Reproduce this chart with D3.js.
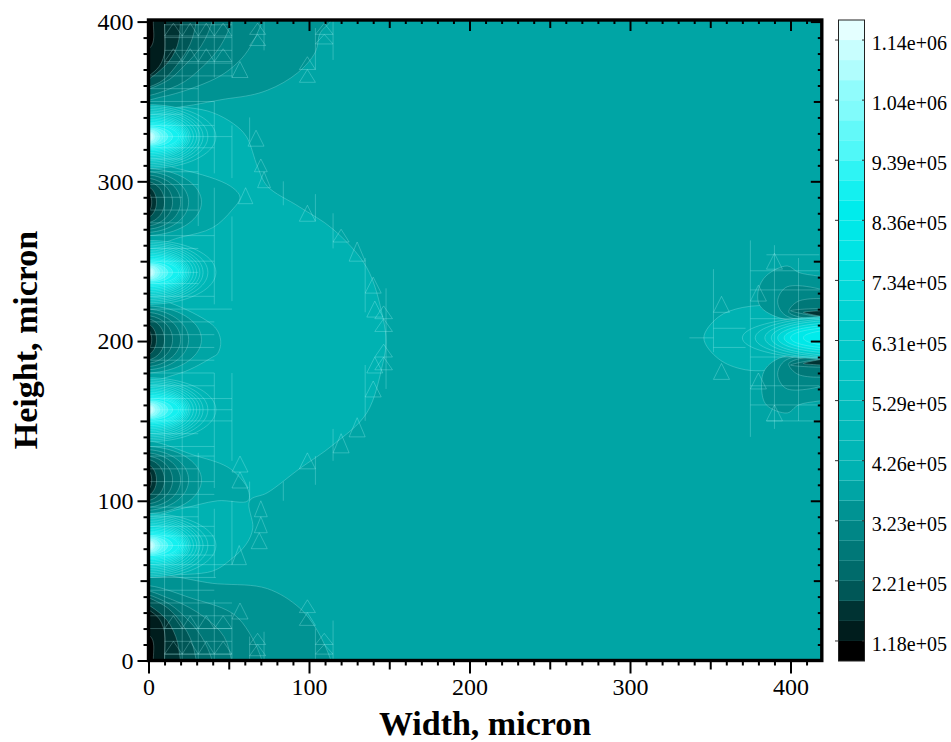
<!DOCTYPE html>
<html>
<head>
<meta charset="utf-8">
<script src="https://cdn.jsdelivr.net/npm/d3@7"></script>
<style>
  body { margin: 0; background: #fff; }
  svg { display: block; }
  text { font-family: "Liberation Serif", serif; fill: #000; }
  .contour { stroke: rgba(190,255,255,.36); stroke-width: .7; }
  .mesh { stroke: rgba(190,255,255,.32); stroke-width: .8; fill: none; }
  .tick-line { stroke: #000; stroke-width: 2; }
</style>
</head>
<body>
<div id="chart"></div>
<script>
// colour bar, bottom band first
var bandColors = ['#000000','#001d1d','#003333','#005757','#006b6b','#007878','#008686','#009393',
  '#00a5a5','#00b2b2','#00b6b6','#00b9b9','#00bcbc','#00c0c0','#00c4c4','#00c8c8',
  '#00cccc','#00d2d2','#00d8d8','#00dede','#00e4e4','#00e8e8','#00ecec','#14f0f0',
  '#2ef4f4','#50f8f8','#62f9f9','#80fbfb','#90fcfc','#b0fdfd','#c8fefe','#e4ffff']
var barLabels = ['1.18e+05','2.21e+05','3.23e+05','4.26e+05','5.29e+05','6.31e+05',
  '7.34e+05','8.36e+05','9.39e+05','1.04e+06','1.14e+06']
var barLabelEdges = [1, 4, 7, 10, 13, 16, 19, 22, 25, 28, 31]

var backgroundBand = 8

// contour outlines in micron: [x, y]
var lobeBand = 9
var lobeOutline = [[-6,347],[0,347],[26,346],[40,343],[53,336],[61,328],[68,309],[74,297],[94,284],[115,270],
  [136,246],[146,215],[148,199],[146,186],[136,155],[115,135],[94,120],[74,105],[63,100],[65,83],
  [61,73],[51,63],[40,56],[9,53],[0,51],[-6,51]]

var wedgeBand = 8
var wedges = [
  [[-6,310],[22,307],[51,297],[57,290],[52,282],[40,271],[20,265],[-6,260]],
  [[-6,226],[40,210],[45,200],[43,192],[40,190],[20,180],[-6,177]],
  [[-6,136],[30,128],[51,120],[62,107],[62,100],[43,100],[20,95],[-6,91]]
]

var topCorner = [
  {band: 7, pts: [[-9,420],[118,420],[114,401],[107,393],[104,381],[93,368],[74,357],[51,352],[-9,350]]},
  {band: 6, pts: [[-9,420],[74,420],[71,401],[62,382],[53,372],[41,364],[9,353],[-9,352]]},
  {band: 5, pts: [[-9,420],[55,420],[52,401],[45,385],[34,372],[18,360],[-9,355]]},
  {band: 4, pts: [[-9,420],[43,420],[40,401],[33,385],[22,372],[10,362],[-9,358]]},
  {band: 3, pts: [[-9,420],[33,420],[30,401],[26,386],[17,372],[7,362],[-9,359]]},
  {band: 2, pts: [[-9,420],[22,420],[20,401],[18,385],[10,372],[-9,361]]},
  {band: 1, pts: [[-9,420],[11,420],[10,401],[10,380],[5,370],[-9,363]]},
  {band: 0, pts: [[-9,420],[3,420],[3,401],[2,385],[-9,378]]}
]
var bottomCorner = [
  {band: 7, pts: [[-9,-20],[118,-20],[114,-1],[105,19],[94,33],[74,45],[43,48],[-9,50]]},
  {band: 6, pts: [[-9,-20],[74,-20],[71,-1],[63,17],[53,29],[30,38],[-9,45]]},
  {band: 5, pts: [[-9,-20],[55,-20],[52,-1],[47,15],[35,27],[15,38],[-9,43]]},
  {band: 4, pts: [[-9,-20],[43,-20],[40,-1],[33,15],[22,28],[10,37],[-9,41]]},
  {band: 3, pts: [[-9,-20],[33,-20],[30,-1],[26,14],[17,28],[7,36],[-9,40]]},
  {band: 2, pts: [[-9,-20],[22,-20],[20,-1],[17,15],[9,28],[-9,37]]},
  {band: 1, pts: [[-9,-20],[11,-20],[10,-1],[10,18],[5,28],[-9,34]]},
  {band: 0, pts: [[-9,-20],[3,-20],[3,-1],[2,14],[-9,20]]}
]

// half-ellipse families on the left edge: [band, reach, half height]
var darkCentres = [287, 201, 113]
var darkProfile = [[7,33,21],[6,25,19],[5,20,17],[4,15,15],[3,10,13],[2,5,10],[1,2,7]]
var hotCentres = [72, 157, 243, 328]
var hotProfile = [[10,42,20],[11,37,19],[12,34,18],[13,32,17],[14,30,16],[15,28,15],[16,26,14],[17,25,13],
  [18,24,12],[19,23,11],[20,22,10],[21,21,9],[22,20,8.2],[23,19,7.4],[24,15,6.4],[25,12,5.6],[26,9,5],[27,7,4.4],
  [28,5.5,4],[29,4,3.2],[30,3,2.5]]

// right edge contours
var rightOutlines = [
  {band: 9, pts: [[430,216],[395,222],[370,221],[355,215],[346,202],[355,189],[372,182],[400,183],[430,188]]},
  {band: 7, pts: [[430,236],[405,243],[398,247],[385,241],[380,232],[381,222],[395,214],[430,214]]},
  {band: 7, pts: [[430,167],[405,160],[398,155],[385,160],[382,170],[384,182],[395,190],[430,190]]},
  {band: 6, pts: [[430,227],[398,234],[392,225],[397,216],[430,214]]},
  {band: 6, pts: [[430,177],[398,170],[392,179],[397,188],[430,190]]},
  {band: 5, pts: [[430,224],[405,225],[399,218],[430,214]]},
  {band: 5, pts: [[430,180],[405,179],[399,186],[430,190]]},
  {band: 4, pts: [[430,219],[400,219],[430,215]]},
  {band: 4, pts: [[430,185],[400,185],[430,189]]},
  {band: 2, pts: [[430,218],[408,218],[430,215]]},
  {band: 2, pts: [[430,186],[408,186],[430,189]]}
]
// bright core on the right edge: [band, centre x, centre y, reach, half height]
var rightHot = [[10,430,202,60,13.5],[12,430,202,52,13],[14,430,202,46,12],[16,430,202,42,11],
  [18,430,202,38,9.5],[20,430,202,34,8],[21,430,202,30,6.5],[22,430,202,22,5]]

// mesh: [x, y0, y1]
var meshVerticals = [[10,0,401],[21,0,401],[31,0,130],[31,272,401],[41,0,38],[41,52,95],[41,108,180],[41,223,296],[41,305,350],[41,365,401],
  [52,0,30],[52,60,100],[52,125,180],[52,225,278],[52,302,335],[52,365,401],[63,0,15],[63,100,112],[63,325,340],
  [72,0,18],[72,382,401],[84,100,112],[84,285,300],[104,0,20],[104,110,128],[104,275,292],[104,370,396],[115,0,25],[115,125,145],[115,258,280],[115,376,401],
  [135,150,185],[135,218,252],[148,170,233],
  [352,193,245],[375,140,263],[390,145,260],[405,150,252]]
// mesh: [y, x0, x1]
var meshRows = [[4,10,52],[12,10,52],[20,0,52],[28,0,52],[36,0,52],[44,0,41],[52,0,42],[60,0,52],[66,0,41],[72,0,41],[78,0,41],
  [84,0,41],[90,0,31],[96,0,31],[104,0,41],[112,0,41],[120,0,31],[128,0,41],[134,0,41],[142,0,31],[150,0,52],[157,0,52],
  [164,0,52],[172,0,41],[180,0,41],[188,0,41],[196,0,41],[204,0,41],[212,0,41],[220,0,52],[228,0,41],[236,0,31],[243,0,31],
  [250,0,41],[258,0,31],[266,0,41],[274,0,21],[282,0,31],[290,0,21],[298,0,31],[306,0,31],[314,0,21],[321,0,41],[328,0,52],
  [335,0,41],[342,0,21],[350,0,41],[358,0,31],[366,0,52],[374,10,52],[382,10,52],[390,10,52],[398,10,52],
  [202,337,352],[196,352,372],[208,352,372],[190,375,418],[214,375,418],[172,375,418],[232,375,418],[160,375,418],[244,375,418],[150,385,418],[254,385,418]]
// mesh triangles: [x0, x1, y base, y apex]
var meshTriangles = [[10,21,391,399],[21,31,391,399],[31,41,391,399],[41,52,391,399],[10,21,375,383],[21,31,375,383],[31,41,375,383],[41,52,375,383],
  [10,21,4,12],[21,31,4,12],[31,41,4,12],[41,52,4,12],[10,21,20,28],[21,31,20,28],[31,41,20,28],[41,52,20,28],
  [63,73,392,399],[63,73,385,392],[52,62,365,375],[104,115,386,392],[104,115,392,399],[94,104,370,378],[94,104,362,370],
  [63,73,3,10],[63,73,10,17],[52,62,26,36],[104,115,4,10],[104,115,10,17],[94,104,22,30],[94,104,30,38],
  [62,72,322,332],[66,74,306,314],[68,76,296,306],[56,65,286,296],
  [64,74,70,80],[66,74,80,90],[66,74,90,100],[52,61,60,72],[52,62,108,118],[52,62,118,128],
  [135,145,230,240],[136,146,215,225],[125,135,250,262],[115,125,262,270],[94,104,275,285],
  [135,145,165,175],[136,146,180,190],[125,135,140,152],[115,125,130,142],[94,104,120,130],
  [141,152,182,190],[141,152,190,198],[141,152,206,214],[141,152,214,222],
  [352,362,176,186],[352,362,218,228],[375,385,170,180],[375,385,225,235],[385,395,150,160],[385,395,245,255]]

var majorTicks = [0, 100, 200, 300, 400]
var midTicks = [50, 150, 250, 350]
var minorX = [10,20,30,40,60,70,80,90,110,120,130,140,160,170,180,190,210,220,230,240,260,270,280,290,310,320,330,340,360,370,380,390,410]
var minorY = [10,20,30,40,60,70,80,90,110,120,130,140,160,170,180,190,210,220,230,240,260,270,280,290,310,320,330,340,360,370,380,390]

var svg = d3.select('#chart').append('svg').attr('width', 951).attr('height', 742)

var x = d3.scaleLinear().domain([0, 420]).range([148.5, 822.6])
var y = d3.scaleLinear().domain([0, 401]).range([660.5, 20])
var barY = d3.scaleLinear().domain([0, 32]).range([661, 20])

svg.append('clipPath').attr('id', 'plot').append('rect')
  .attr('x', x(0)).attr('y', y(401)).attr('width', x(420) - x(0)).attr('height', y(0) - y(401))

var plot = svg.append('g').attr('clip-path', 'url(#plot)')

plot.append('rect')
  .attr('x', x(0)).attr('y', y(401)).attr('width', x(420) - x(0)).attr('height', y(0) - y(401))
  .attr('fill', bandColors[backgroundBand])

var smooth = d3.line().x(d => x(d[0])).y(d => y(d[1])).curve(d3.curveCatmullRomClosed.alpha(.5))
var straight = d3.line().x(d => x(d[0])).y(d => y(d[1])).curve(d3.curveLinearClosed)

function ring(pts, band){
  plot.append('path').attr('class', 'contour').attr('d', smooth(pts)).attr('fill', bandColors[band])
}

function ellipse(cx, cy, rx, ry){
  return d3.range(0, 360, 10).map(a => [cx + rx * Math.cos(a * Math.PI / 180), cy + ry * Math.sin(a * Math.PI / 180)])
}

ring(lobeOutline, lobeBand)
wedges.forEach(w => ring(w, wedgeBand))
topCorner.forEach(c => ring(c.pts, c.band))
bottomCorner.forEach(c => ring(c.pts, c.band))

darkCentres.forEach(cy => darkProfile.forEach(p => ring(ellipse(-2, cy, p[1] + 2, p[2]), p[0])))
hotCentres.forEach(cy => hotProfile.forEach(p => ring(ellipse(0, cy, p[1], p[2]), p[0])))
rightOutlines.forEach(c => ring(c.pts, c.band))
rightHot.forEach(f => ring(ellipse(f[1], f[2], f[3], f[4]), f[0]))

var mesh = plot.append('g').attr('class', 'mesh')
meshVerticals.forEach(v => {
  mesh.append('line').attr('x1', x(v[0])).attr('x2', x(v[0])).attr('y1', y(v[1])).attr('y2', y(v[2]))
})
meshRows.forEach(r => {
  mesh.append('line').attr('x1', x(r[1])).attr('x2', x(r[2])).attr('y1', y(r[0])).attr('y2', y(r[0]))
})
meshTriangles.forEach(t => {
  mesh.append('path').attr('d', straight([[t[0], t[2]], [t[1], t[2]], [(t[0] + t[1]) / 2, t[3]]]))
})

// frame
svg.append('rect')
  .attr('x', x(0)).attr('y', y(401)).attr('width', x(420) - x(0) - .8).attr('height', y(0) - y(401))
  .attr('fill', 'none').attr('stroke', '#000').attr('stroke-width', 3.4)

function ticks(axis, scale, values, size, at, labels){
  var g = svg.append('g').attr('transform', at).call(
    axis(scale).tickValues(values).tickSize(size).tickPadding(4).tickFormat(labels ? d3.format('d') : ''))
  g.select('.domain').remove()
  g.selectAll('.tick line').attr('class', 'tick-line')
  g.selectAll('text').style('font-size', '24px').style('font-family', '"Liberation Serif", serif')
  return g
}

var bottom = 'translate(0,' + y(0) + ')', top_ = 'translate(0,' + y(401) + ')'
var left = 'translate(' + x(0) + ',0)', right = 'translate(' + (x(420) - .8) + ',0)'

ticks(d3.axisBottom, x, majorTicks, 13, bottom, true)
ticks(d3.axisBottom, x, midTicks, 9, bottom)
ticks(d3.axisBottom, x, minorX, 5, bottom)
ticks(d3.axisTop, x, majorTicks, -11, top_)
ticks(d3.axisTop, x, midTicks, -8, top_)
ticks(d3.axisTop, x, minorX, -4, top_)
ticks(d3.axisLeft, y, majorTicks, 11, left, true)
ticks(d3.axisLeft, y, midTicks, 8, left)
ticks(d3.axisLeft, y, minorY, 5, left)
ticks(d3.axisRight, y, majorTicks, -11, right)
ticks(d3.axisRight, y, midTicks, -8, right)
ticks(d3.axisRight, y, minorY, -4, right)

// colour bar
svg.append('g').selectAll('rect').data(bandColors).join('rect')
  .attr('x', 838.5).attr('width', 26)
  .attr('y', (d, i) => barY(i + 1)).attr('height', (d, i) => barY(i) - barY(i + 1))
  .attr('fill', d => d)
svg.append('rect').attr('x', 838.5).attr('y', barY(32)).attr('width', 26).attr('height', barY(0) - barY(32))
  .attr('fill', 'none').attr('stroke', '#222').attr('stroke-width', 1)
barLabelEdges.forEach((e, i) => {
  svg.append('line').attr('x1', 835).attr('x2', 838.5).attr('y1', barY(e)).attr('y2', barY(e)).attr('stroke', '#333')
  svg.append('line').attr('x1', 862).attr('x2', 864.5).attr('y1', barY(e)).attr('y2', barY(e)).attr('stroke', '#333')
  svg.append('text').attr('x', 947).attr('y', barY(e) + 10).attr('text-anchor', 'end')
    .style('font-size', '20px').text(barLabels[i])
})

// titles
svg.append('text').attr('x', 485).attr('y', 735).attr('text-anchor', 'middle')
  .style('font-size', '34px').style('font-weight', 'bold').text('Width, micron')
svg.append('text').attr('transform', 'translate(37,340) rotate(-90)').attr('text-anchor', 'middle')
  .style('font-size', '34px').style('font-weight', 'bold').text('Height, micron')
</script>
</body>
</html>
